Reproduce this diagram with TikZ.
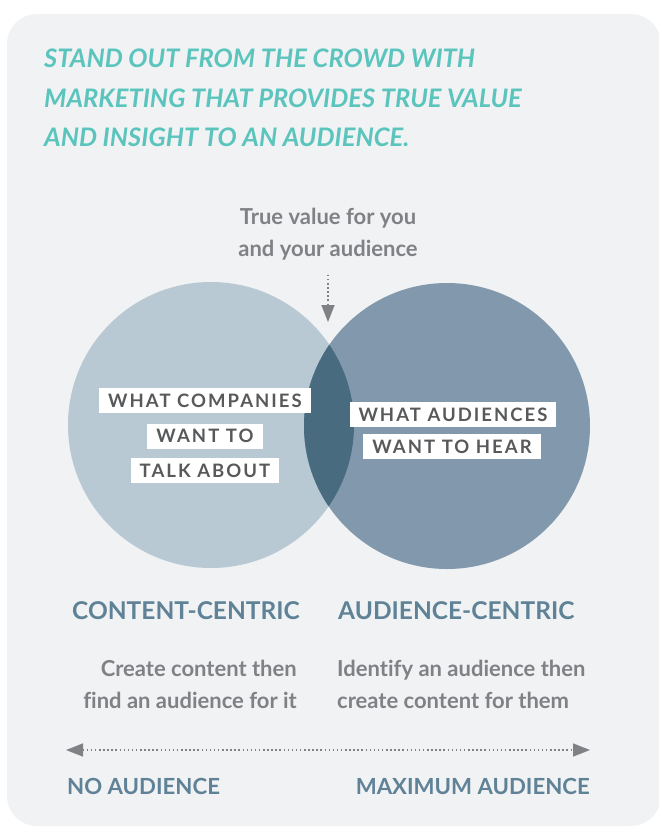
\documentclass[tikz,border=0pt]{standalone}
\usepackage{fontspec}
\setmainfont{Lato}[Ligatures=NoCommon]
\newfontfamily\tagfont{Lato}[LetterSpace=11]
\usetikzlibrary{arrows.meta}
\definecolor{bggray}{HTML}{F0F2F4}
\definecolor{teal}{HTML}{5BC5BD}
\definecolor{leftblue}{HTML}{B8C9D4}
\definecolor{rightblue}{HTML}{8299AD}
\definecolor{lensblue}{HTML}{486B80}
\definecolor{headblue}{HTML}{5F8297}
\definecolor{notegray}{HTML}{808184}
\definecolor{taggray}{HTML}{58595B}
\newcommand{\circr}{143pt}

\begin{document}
\begin{tikzpicture}[x=1pt,y=-1pt,
    circ/.style={circle, minimum size=2*\circr, inner sep=0pt},
    title/.style={anchor=base west, text=teal, inner sep=0pt, font=\bfseries\itshape\fontsize{25.5}{25.5}\selectfont},
    tag/.style={fill=white, text=taggray, inner xsep=9pt, inner ysep=0pt, minimum height=25pt, text height=13pt, text depth=0pt, font=\tagfont\bfseries\fontsize{18.5}{18.5}\selectfont},
    head/.style={text=headblue, inner sep=0pt, font=\bfseries\fontsize{24.5}{24.5}\selectfont},
    foot/.style={text=headblue, inner sep=0pt, font=\bfseries\fontsize{22.2}{22.2}\selectfont},
    note/.style={text=notegray, inner sep=0pt, font=\bfseries\fontsize{22}{32}\selectfont},
    dots/.style={notegray, line width=1.6pt, dash pattern=on 1.5pt off 2.6pt},
    tip/.style={-{Triangle[length=17pt,width=13pt]}},
    tips/.style={{Triangle[length=17pt,width=13pt]}-{Triangle[length=17pt,width=13pt]}}]
    \useasboundingbox (0,0) rectangle (659,828);
    \fill[bggray, rounded corners=30pt] (7,14) rectangle (661,826);

    % Title
    \node[title] (title-1) at (44,67) {STAND OUT FROM THE CROWD WITH};
    \node[title] (title-2) at (44,107) {MARKETING THAT PROVIDES TRUE VALUE};
    \node[title] (title-3) at (44,146) {AND INSIGHT TO AN AUDIENCE.};

    % Circles
    \node[circ, fill=leftblue] (content) at (211,425) {};
    \node[circ, fill=rightblue] (audience) at (447,426) {};
    \begin{scope}
        \clip (211,425) circle[radius=\circr];
        \fill[lensblue] (447,426) circle[radius=\circr];
    \end{scope}

    % True value
    \node[note, align=center, anchor=base] (value) at (328,256) {True value for you\\and your audience};
    \coordinate (valuetip) at (328,322);
    \draw[dots, tip, shorten <=15pt] (value.south) -- (valuetip);

    % Tags
    \node[tag] (tag-1-1) at (205,400.5) {WHAT COMPANIES};
    \node[tag] (tag-1-2) at (205,436) {WANT TO};
    \node[tag] (tag-1-3) at (205,470.5) {TALK ABOUT};
    \node[tag] (tag-2-1) at (453,414.5) {WHAT AUDIENCES};
    \node[tag] (tag-2-2) at (452,446.5) {WANT TO HEAR};

    % Columns
    \node[head, anchor=base east] (head-1) at (300,619) {CONTENT-CENTRIC};
    \node[head, anchor=base west] (head-2) at (338,619) {AUDIENCE-CENTRIC};
    \node[note, align=right, anchor=base east] (note-1) at (297,708) {Create content then\\find an audience for it};
    \node[note, align=left, anchor=base west] (note-2) at (337,708) {Identify an audience then\\create content for them};

    % Scale
    \coordinate (noaud) at (66,750);
    \coordinate (maxaud) at (590,750);
    \draw[dots, tips] (noaud) -- (maxaud);
    \node[foot, anchor=base west] (scale-1) at (67,794) {NO AUDIENCE};
    \node[foot, anchor=base east] (scale-2) at (590,794) {MAXIMUM AUDIENCE};
\end{tikzpicture}
\end{document}
